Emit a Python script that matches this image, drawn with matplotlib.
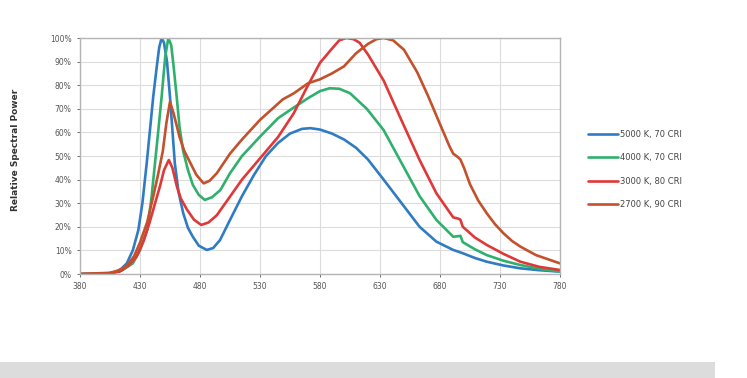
import matplotlib
matplotlib.use("Agg")
import matplotlib.pyplot as plt
from matplotlib.patches import Rectangle

# wavelength (nm) and relative power (%)
BLUE_NM = [380, 400, 408, 414, 419, 424, 428.6, 432, 435.6, 438.5, 441, 444, 446, 448, 450,
           452.5, 455, 459, 462, 466, 470, 474, 479, 485.6, 491, 496.7, 505, 515, 525, 535,
           545, 555, 565, 572, 580, 590, 600, 610, 620, 633, 648, 663, 677, 691, 699, 709,
           719, 733, 747, 763, 780]
BLUE_PCT = [0, 0, 0.5, 2, 4.5, 10, 18.6, 30, 47, 62, 75, 88, 96, 100, 98,
            90, 75, 47, 35, 25.8, 19.5, 15.8, 12, 10.2, 11, 14.4, 22.9, 33, 42, 50,
            55.5, 59.5, 61.5, 61.8, 61.2, 59.5, 57, 53.5, 48.5, 40, 30, 20, 13.7, 10.2, 8.8, 6.8,
            5.2, 3.6, 2.4, 1.6, 1]

GREEN_NM = [380, 405, 415, 424, 430, 436, 439.5, 442.5, 445.5, 448, 451, 453.6, 456, 458,
            460.6, 463, 466, 470, 474, 479, 484, 490, 497, 505, 515, 530, 545, 558, 570, 580,
            588, 596, 605, 619, 633, 648, 663, 677, 691, 695, 697, 699, 709, 719, 733, 747,
            763, 780]
GREEN_PCT = [0, 0.3, 1.5, 4.5, 10, 18.6, 32, 47, 62, 75, 92, 100, 97, 88,
             75, 62, 52, 44, 37.8, 33.5, 31.4, 32.5, 35.6, 42.7, 50, 58.2, 66, 70.5, 74.5, 77.5,
             78.7, 78.5, 76.6, 70, 61, 47, 33, 22.9, 15.8, 16, 16.2, 13.5, 10.5, 8, 5.6, 3.8,
             2.2, 1]

RED_NM = [380, 400, 413, 420, 427, 433, 438, 442, 446.7, 450, 454, 457, 460.6, 464, 469, 475,
          481, 487, 494, 505, 515, 530, 545, 558, 569, 580, 590, 596, 602, 608, 613, 620, 633,
          648, 663, 677, 691, 695, 697, 699, 709, 719, 733, 747, 763, 780]
RED_PCT = [0, 0, 1, 3.5, 7.3, 14, 21.8, 29, 37.3, 44, 48.3, 45, 37.3, 32, 27.4, 23,
           20.8, 21.8, 24.9, 32.8, 40, 49, 58, 68, 79, 89.5, 95.5, 99, 100, 99.5, 98, 93, 82,
           65, 48.3, 34.2, 24, 23.5, 23, 20, 15.5, 12.3, 8.5, 5.2, 3, 1.7]

BROWN_NM = [380, 405, 412, 419, 425, 430, 436, 441, 445, 449, 452, 455, 458, 463, 467, 472,
            477, 483, 488, 494, 505, 515, 530, 549, 558, 570, 580, 590, 600, 610, 620, 627,
            633, 641, 650, 661, 670, 680, 688, 691, 695, 697, 700, 705, 712, 719, 726, 733,
            740, 747, 760, 780]
BROWN_PCT = [0, 0.5, 1.5, 3.4, 7.5, 13.3, 22, 32.8, 42, 52, 64, 73, 68, 58, 52, 47,
             42, 38.4, 39.5, 42.7, 51, 57, 65.3, 74, 76.5, 80.8, 82.5, 85, 88, 93.5, 97.5, 99.5,
             100, 99, 95, 85.5, 75.5, 63.5, 54, 51, 49.5, 48.5, 45, 38, 31, 25.7, 21, 17.2,
             14, 11.6, 8, 4.5]

SERIES = [
    (BLUE_NM, BLUE_PCT, "5000 K, 70 CRI", "#2f7bc4"),
    (GREEN_NM, GREEN_PCT, "4000 K, 70 CRI", "#2fb06c"),
    (RED_NM, RED_PCT, "3000 K, 80 CRI", "#e03838"),
    (BROWN_NM, BROWN_PCT, "2700 K, 90 CRI", "#c2512c"),
]

X_TICKS = [380, 430, 480, 530, 580, 630, 680, 730, 780]
Y_TICKS = list(range(0, 101, 10))

fig = plt.figure(figsize=(7.47, 3.78), dpi=100)
ax = fig.add_axes([80 / 747, 104 / 378, 480 / 747, 236 / 378])

for nm, pct, label, color in SERIES:
    ax.plot(nm, pct, color=color, linewidth=1.9, label=label,
            solid_capstyle="round", solid_joinstyle="round")

ax.set_xlim(380, 780)
ax.set_ylim(0, 100)
ax.set_xticks(X_TICKS)
ax.set_yticks(Y_TICKS)
ax.set_yticklabels([f"{v}%" for v in Y_TICKS])
ax.grid(True, color="#dcdcdc", linewidth=0.8)
ax.set_axisbelow(True)
for s in ax.spines.values():
    s.set_color("#b4b4b4")
    s.set_linewidth(1.0)
ax.tick_params(labelsize=5.5, colors="#555555", length=2.5, width=0.6)

fig.text(16 / 747, 1 - 150 / 378, "Relative Spectral Power", rotation=90,
         ha="center", va="center", fontsize=6.5, fontweight="bold", color="#333333")

fig.legend(loc="upper left", bbox_to_anchor=(580 / 747, 1 - 122 / 378), frameon=False,
           fontsize=6, handlelength=3.6, handletextpad=0.3, labelspacing=1.75,
           labelcolor="#444444")

# gray band at the bottom of the image
fig.patches.append(Rectangle((0, 0), 715 / 747, 16 / 378, transform=fig.transFigure,
                             facecolor="#dcdcdc", edgecolor="none"))

fig.savefig("out.png", dpi=100)
